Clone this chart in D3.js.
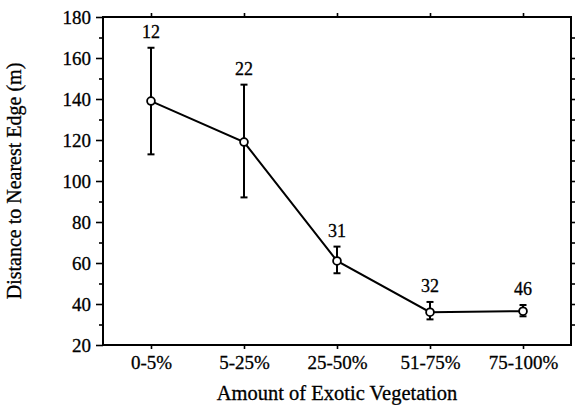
<!DOCTYPE html>
<html>
<head>
<meta charset="utf-8">
<script src="https://cdn.jsdelivr.net/npm/d3@7"></script>
<style>
  body { margin: 0; background: #fff; }
  svg { display: block; }
</style>
</head>
<body>
<svg class="chart"></svg>
<script>
// data
const categories = ["0-5%", "5-25%", "25-50%", "51-75%", "75-100%"]
const means = [139, 119, 61, 36, 36.5]
const upper = [165, 147, 68, 41, 39.5]
const lower = [113, 92, 55, 32.5, 34]
const sampleSizes = ["12", "22", "31", "32", "46"]
const yTicks = [20, 40, 60, 80, 100, 120, 140, 160, 180]
const yMinor = [30, 50, 70, 90, 110, 130, 150, 170]
const yRight = [30, 40, 50, 60, 70, 80, 90, 100, 110, 120, 130, 140, 150, 160, 170]

const FONT = "'Liberation Serif', 'Times New Roman', Tinos, serif"

const W = 576, H = 405
const margin = { top: 17, right: 5, bottom: 60, left: 103 }
const width = W - margin.left - margin.right
const height = H - margin.top - margin.bottom

const svg = d3.select("svg.chart")
    .attr("width", W)
    .attr("height", H)
    .style("font-family", FONT)

const g = svg.append("g")
    .attr("transform", "translate(" + margin.left + "," + margin.top + ")")

const points = categories.map((c, i) => ({
    cat: c, mean: means[i], hi: upper[i], lo: lower[i], n: sampleSizes[i]
}))

const x = d3.scalePoint()
    .domain(categories)
    .range([0, width])
    .padding(0.516)

const y = d3.scaleLinear()
    .domain([20, 180])
    .range([height, 0])

// axes
g.append("g")
    .attr("class", "axis")
    .call(d3.axisLeft(y).tickValues(yTicks).tickSize(7).tickSizeOuter(0).tickPadding(5))

g.append("g")
    .attr("class", "axis")
    .call(d3.axisLeft(y).tickValues(yMinor).tickSize(4).tickSizeOuter(0).tickFormat(""))

g.append("g")
    .attr("class", "axis")
    .attr("transform", "translate(" + width + ",0)")
    .call(d3.axisRight(y).tickValues(yRight).tickSize(4).tickSizeOuter(0).tickFormat(""))

g.append("g")
    .attr("class", "axis")
    .call(d3.axisTop(x).tickSize(4).tickSizeOuter(0).tickFormat(""))

g.append("g")
    .attr("class", "axis")
    .attr("transform", "translate(0," + height + ")")
    .call(d3.axisBottom(x).tickSize(4).tickSizeOuter(0).tickPadding(7))

g.selectAll(".axis")
    .attr("font-family", null)
    .attr("font-size", null)
g.selectAll(".axis text")
    .style("font-family", FONT)
    .style("font-size", "19px")
    .attr("fill", "#000")
    .attr("stroke", "#000")
    .attr("stroke-width", 0.3)
g.selectAll(".domain").remove()
g.selectAll(".tick line").attr("stroke", "#000").attr("stroke-width", 1.6)

g.append("rect")
    .attr("x", 0).attr("y", 0)
    .attr("width", width).attr("height", height)
    .attr("fill", "none")
    .attr("stroke", "#000")
    .attr("stroke-width", 2)

// error bars
const eb = g.append("g").attr("stroke", "#000").attr("stroke-width", 2)
eb.selectAll(".whisker")
    .data(points)
    .enter()
    .append("line")
    .attr("x1", d => x(d.cat)).attr("x2", d => x(d.cat))
    .attr("y1", d => y(d.hi)).attr("y2", d => y(d.lo))
eb.selectAll(".capTop")
    .data(points)
    .enter()
    .append("line")
    .attr("x1", d => x(d.cat) - 3.5).attr("x2", d => x(d.cat) + 3.5)
    .attr("y1", d => y(d.hi)).attr("y2", d => y(d.hi))
eb.selectAll(".capBot")
    .data(points)
    .enter()
    .append("line")
    .attr("x1", d => x(d.cat) - 3.5).attr("x2", d => x(d.cat) + 3.5)
    .attr("y1", d => y(d.lo)).attr("y2", d => y(d.lo))

// mean line
const line = d3.line()
    .x(d => x(d.cat))
    .y(d => y(d.mean))

g.append("path")
    .datum(points)
    .attr("d", line)
    .attr("fill", "none")
    .attr("stroke", "#000")
    .attr("stroke-width", 2)

g.selectAll(".dot")
    .data(points)
    .enter()
    .append("circle")
    .attr("cx", d => x(d.cat))
    .attr("cy", d => y(d.mean))
    .attr("r", 3.9)
    .attr("fill", "#fff")
    .attr("stroke", "#000")
    .attr("stroke-width", 1.8)

// sample sizes
g.selectAll(".nlab")
    .data(points)
    .enter()
    .append("text")
    .attr("x", d => x(d.cat))
    .attr("y", d => y(d.hi) - 10)
    .attr("text-anchor", "middle")
    .style("font-family", FONT)
    .style("font-size", "18px")
    .attr("stroke", "#000")
    .attr("stroke-width", 0.3)
    .text(d => d.n)

// axis titles
svg.append("text")
    .attr("x", margin.left + width / 2)
    .attr("y", 400)
    .attr("text-anchor", "middle")
    .style("font-family", FONT)
    .style("font-size", "20.5px")
    .attr("stroke", "#000")
    .attr("stroke-width", 0.3)
    .text("Amount of Exotic Vegetation")

svg.append("text")
    .attr("text-anchor", "middle")
    .attr("transform", "translate(21," + (margin.top + height / 2) + ")rotate(-90)")
    .style("font-family", FONT)
    .style("font-size", "20px")
    .attr("stroke", "#000")
    .attr("stroke-width", 0.3)
    .text("Distance to Nearest Edge (m)")
</script>
</body>
</html>
